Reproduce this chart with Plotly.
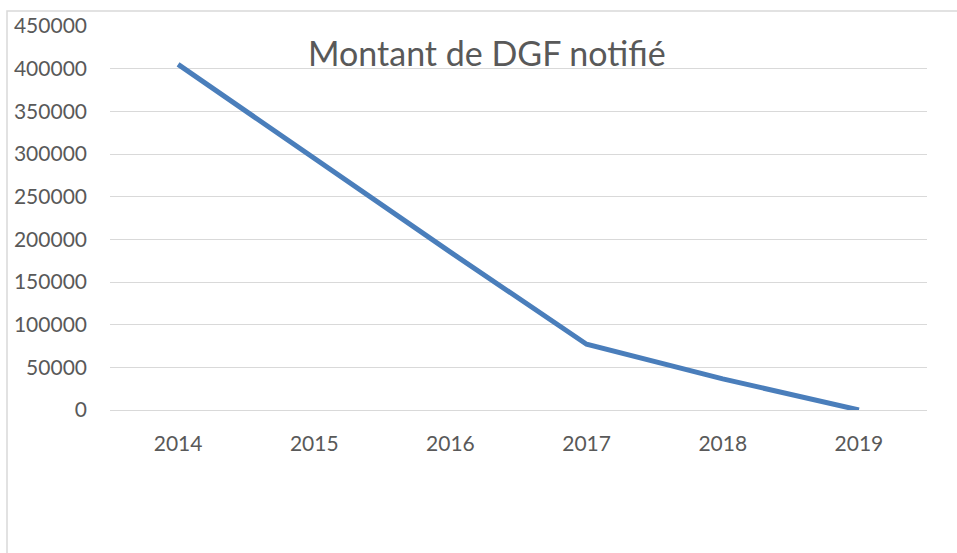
import plotly.graph_objects as go

years = ["2014", "2015", "2016", "2017", "2018", "2019"]
montant = [405000, 295000, 185000, 77000, 36500, 0]
y_ticks = [0, 50000, 100000, 150000, 200000, 250000, 300000, 350000, 400000, 450000]
title_text = "Montant de DGF notifié"

W, H = 957, 553
L, R, T, B = 110, 30, 23, 143
pw, ph = W - L - R, H - T - B

def px_x(x):
    return (x - L) / pw

def px_y(y):
    return (H - B - y) / ph

fig = go.Figure()
fig.add_trace(go.Scatter(
    x=years, y=montant, mode="lines",
    line=dict(color="#4A7EBB", width=5),
    hoverinfo="x+y", showlegend=False,
))

fig.update_layout(
    width=W, height=H,
    margin=dict(l=L, r=R, t=T, b=B),
    paper_bgcolor="white", plot_bgcolor="white",
    font=dict(family="Lato", color="#595959", size=21),
    xaxis=dict(
        type="category", range=[-0.5, 5.5],
        showgrid=False, zeroline=False,
        showline=True, linecolor="#D9D9D9", linewidth=1.3,
        ticks="", ticklabelstandoff=15,
        tickfont=dict(size=21, color="#595959"),
    ),
    yaxis=dict(
        range=[0, 450000], tickvals=y_ticks,
        ticktext=[str(v) for v in y_ticks],
        showgrid=True, gridcolor="#D9D9D9", gridwidth=1.3,
        zeroline=False, showline=False, ticks="",
        ticklabelstandoff=22,
        tickfont=dict(size=21, color="#595959"),
    ),
    annotations=[dict(
        text=title_text, xref="paper", yref="paper",
        x=px_x(487), y=px_y(50), xanchor="center", yanchor="middle",
        showarrow=False, font=dict(family="Lato", size=34, color="#595959"),
    )],
    shapes=[dict(
        type="rect", xref="paper", yref="paper",
        x0=px_x(7), x1=px_x(1000), y0=px_y(600), y1=px_y(8),
        line=dict(color="#D9D9D9", width=1.5), fillcolor="rgba(0,0,0,0)",
        layer="below",
    )],
)

fig.write_html("out.html", config={"displayModeBar": False},
               post_script="document.body.style.margin='0px';")
